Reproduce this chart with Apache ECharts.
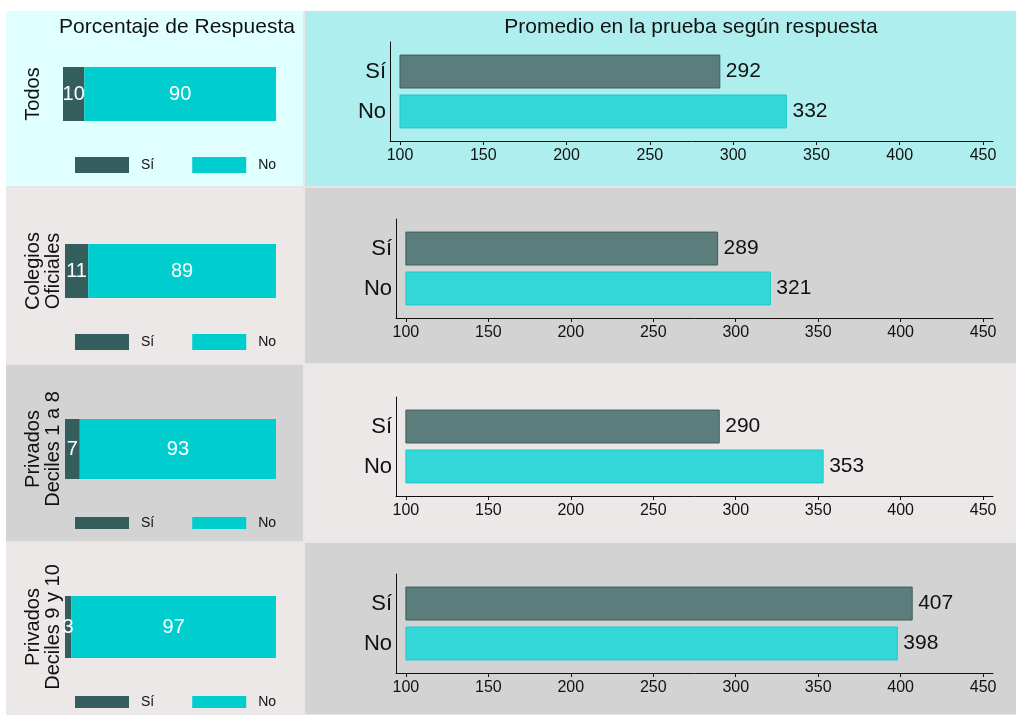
<!DOCTYPE html>
<html>
<head>
<meta charset="utf-8">
<script src="https://cdn.jsdelivr.net/npm/echarts@6/dist/echarts.min.js"></script>
<style>
  html, body { margin: 0; padding: 0; background: #ffffff; }
  #chart { width: 1016px; height: 715px; }
</style>
</head>
<body>
<div id="chart"></div>
<script>
// ---- data ----
const groups = ['Todos', 'Colegios\nOficiales', 'Privados\nDeciles 1 a 8', 'Privados\nDeciles 9 y 10'];
const answers = ['Sí', 'No'];
const pctSi = [10, 11, 7, 3];
const pctNo = [90, 89, 93, 97];
const scoreSi = [292, 289, 290, 407];
const scoreNo = [332, 321, 353, 398];
const scoreTicks = [100, 150, 200, 250, 300, 350, 400, 450];
const scoreBase = 100;
const titles = ['Porcentaje de Respuesta', 'Promedio en la prueba según respuesta'];

// ---- layout & style ----
const FONT = '"Liberation Sans", Arial, sans-serif';
const INK = '#111111';
const rowTop = [11, 188, 365, 543];
const rowH = [176, 176, 177, 172];
const colX = [6, 305];
const colW = [298, 711];
const panelFill = [
  ['#e0ffff', '#afeeee'],
  ['#ece8e7', '#d3d3d3'],
  ['#d3d3d3', '#ece8e7'],
  ['#ece8e7', '#d3d3d3']
];
const pctGrid = [
  { top: 67, h: 54, left: 63 },
  { top: 244, h: 54, left: 65 },
  { top: 419, h: 60, left: 65 },
  { top: 596, h: 62, left: 65 }
];
const legendTop = [157, 334, 516, 695];
const legendH = [16, 16, 12, 12];
const scoreGrid = [
  { top: 42, left: 390 },
  { top: 219, left: 396 },
  { top: 397, left: 396 },
  { top: 574, left: 396 }
];
const colors = {
  siSolid: '#345e5d', noSolid: '#00cdcd',
  siBar: '#5b7d7b', siEdge: '#3e5e5c',
  noBar: '#33d7d7', noEdge: '#1ec9c9'
};

const chart = echarts.init(document.getElementById('chart'), null, { renderer: 'canvas' });

const graphic = [{
  type: 'rect', z: -2, silent: true,
  shape: { x: colX[0], y: rowTop[0], width: 1016 - colX[0], height: 715 - rowTop[0] },
  style: { fill: '#e6e6e6' }
}];
rowTop.forEach((t, r) => {
  [0, 1].forEach(c => {
    graphic.push({
      type: 'rect', z: -1, silent: true,
      shape: { x: colX[c], y: t, width: colW[c] - (c === 0 ? 1 : 0), height: rowH[r] - 1 },
      style: { fill: panelFill[r][c] }
    });
  });
});

const grid = [], xAxis = [], yAxis = [], series = [], legend = [];

// left column: 100% stacked share of answers
groups.forEach((g, i) => {
  const L = pctGrid[i];
  const twoLines = g.indexOf('\n') >= 0;
  grid.push({ left: L.left, width: 276 - L.left, top: L.top, height: L.h });
  xAxis.push({ gridIndex: i, type: 'value', min: 0, max: 100, show: false });
  yAxis.push({
    gridIndex: i, type: 'category', data: [''],
    axisLine: { show: false }, axisTick: { show: false }, axisLabel: { show: false },
    name: g, nameLocation: 'middle', nameRotate: 90, nameGap: twoLines ? 2 : 20,
    nameTextStyle: { fontSize: 20, lineHeight: 20, color: INK, fontFamily: FONT }
  });
  [[pctSi, colors.siSolid], [pctNo, colors.noSolid]].forEach(([arr, col], k) => {
    series.push({
      type: 'bar', name: answers[k], stack: 'pct' + i,
      xAxisIndex: i, yAxisIndex: i,
      barWidth: '100%',
      itemStyle: { color: col },
      label: { show: true, position: 'inside', color: '#ffffff', fontSize: 20, fontFamily: FONT, formatter: '{c}' },
      data: [arr[i]]
    });
  });
  legend.push({
    data: answers, left: 75, top: legendTop[i], icon: 'rect', padding: 0,
    itemWidth: 54, itemHeight: legendH[i], itemGap: 38, selectedMode: false,
    textStyle: { fontSize: 14, color: INK, fontFamily: FONT, padding: [0, 0, 0, 7] }
  });
});

// right column: average score by answer
groups.forEach((g, i) => {
  const gi = 4 + i;
  const S = scoreGrid[i];
  grid.push({ left: S.left, width: 993 - S.left, top: S.top, height: 99 });
  xAxis.push({
    gridIndex: gi, type: 'value', min: 94, max: 456,
    axisLine: { show: true, onZero: false, lineStyle: { color: INK, width: 1 } },
    axisTick: { show: true, customValues: scoreTicks, length: 4, lineStyle: { color: INK } },
    axisLabel: { customValues: scoreTicks, fontSize: 16, color: INK, fontFamily: FONT, margin: 7 },
    splitLine: { show: false }
  });
  yAxis.push({
    gridIndex: gi, type: 'value', min: -0.74, max: 1.74,
    axisLine: { show: true, onZero: false, lineStyle: { color: INK, width: 1 } },
    axisTick: { show: false },
    axisLabel: {
      customValues: [1, 0], fontSize: 22, color: INK, fontFamily: FONT, margin: 4,
      formatter: v => answers[1 - v]
    },
    splitLine: { show: false }
  });
  series.push({
    type: 'custom', name: 'Promedio ' + i,
    xAxisIndex: gi, yAxisIndex: gi,
    encode: { x: 0, y: 1 },
    data: [[scoreSi[i], 1], [scoreNo[i], 0]],
    renderItem: (params, api) => {
      const v = api.value(0), y = api.value(1);
      const p0 = api.coord([scoreBase, y]);
      const p1 = api.coord([v, y]);
      const h = api.size([0, 0.825])[1];
      const isSi = y === 1;
      return {
        type: 'group',
        children: [{
          type: 'rect',
          shape: { x: p0[0], y: p0[1] - h / 2, width: p1[0] - p0[0], height: h },
          style: { fill: isSi ? colors.siBar : colors.noBar, stroke: isSi ? colors.siEdge : colors.noEdge, lineWidth: 1 }
        }, {
          type: 'text',
          style: { text: String(v), x: p1[0] + 6, y: p1[1], verticalAlign: 'middle', fontSize: 21, fill: INK, fontFamily: FONT }
        }]
      };
    }
  });
});

chart.setOption({
  animation: false,
  textStyle: { fontFamily: FONT },
  title: [
    { text: titles[0], left: 177, top: 17, textAlign: 'center', padding: 0,
      textStyle: { fontSize: 21, fontWeight: 'normal', color: INK, fontFamily: FONT } },
    { text: titles[1], left: 691, top: 17, textAlign: 'center', padding: 0,
      textStyle: { fontSize: 21, fontWeight: 'normal', color: INK, fontFamily: FONT } }
  ],
  graphic: graphic,
  legend: legend,
  grid: grid,
  xAxis: xAxis,
  yAxis: yAxis,
  series: series
});
</script>
</body>
</html>
